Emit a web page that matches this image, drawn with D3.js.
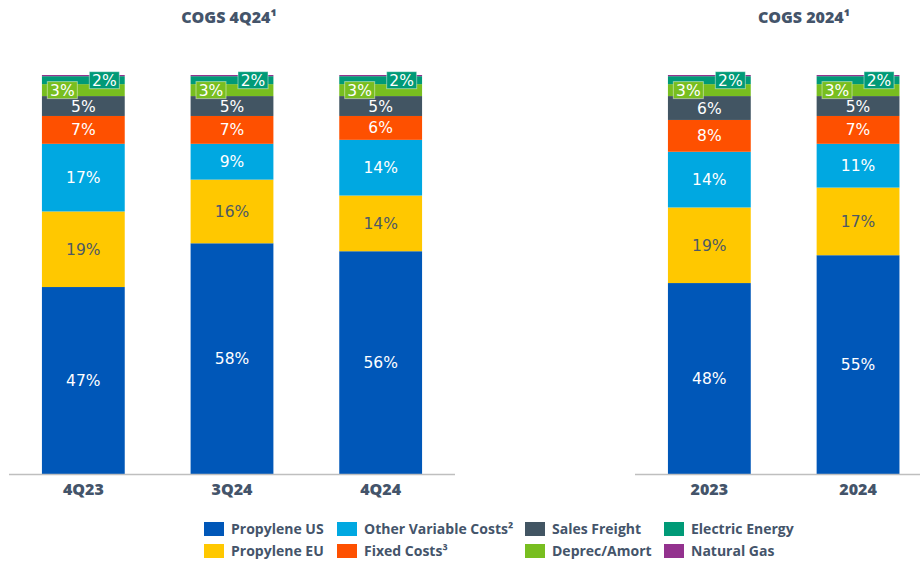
<!DOCTYPE html>
<html>
<head>
<meta charset="utf-8">
<script src="https://cdn.jsdelivr.net/npm/d3@7"></script>
<style>
  body { margin: 0; background: #fff; }
  svg { display: block; }
</style>
</head>
<body>
<div id="chart"></div>
<script>
const width = 920;
const height = 562;

// chart data
const quarters = ["4Q23", "3Q24", "4Q24"];
const years = ["2023", "2024"];
const seriesNames = ["Propylene US", "Propylene EU", "Other Variable Costs²", "Fixed Costs³",
                     "Sales Freight", "Deprec/Amort", "Electric Energy", "Natural Gas"];
const seriesColors = ["#0057B8", "#FFC800", "#00A8E1", "#FE5000",
                      "#425563", "#78BE20", "#009A77", "#93328E"];
// values for 4Q23, 3Q24, 4Q24, 2023, 2024
const propyleneUS   = [47, 58, 56, 48, 55];
const propyleneEU   = [19, 16, 14, 19, 17];
const otherVariable = [17, 9, 14, 14, 11];
const fixedCosts    = [7, 7, 6, 8, 7];
const salesFreight  = [5, 5, 5, 6, 5];
const deprecAmort   = [3, 3, 3, 3, 3];
const electricEnergy = [2, 2, 2, 2, 2];
const naturalGas    = [0.3, 0.3, 0.3, 0.3, 0.3];

const seriesValues = [propyleneUS, propyleneEU, otherVariable, fixedCosts,
                      salesFreight, deprecAmort, electricEnergy, naturalGas];
const allCats = quarters.concat(years);
const rows = allCats.map((c, i) => {
    const r = {cat: c};
    seriesNames.forEach((s, j) => r[s] = seriesValues[j][i]);
    return r;
});

const textColor = "#44546A";
const labelFont = "'DejaVu Sans', Verdana, sans-serif";
const boldFont = "'Open Sans', sans-serif";

const svg = d3.select("#chart").append("svg")
    .attr("width", width)
    .attr("height", height)
    .attr("viewBox", [0, 0, width, height]);

const baseline = 474;
const y = d3.scaleLinear().domain([0, 100.3]).range([baseline, 75]);

const stack = d3.stack().keys(seriesNames);

const panels = [
    {title: "COGS 4Q24¹", cats: quarters, range: [9, 455], titleX: 229, lineX: [9, 455]},
    {title: "COGS 2024¹", cats: years, range: [635, 932.4], titleX: 804, lineX: [635, 920]}
];

panels.forEach(p => {
    const data = rows.filter(r => p.cats.includes(r.cat));
    const x = d3.scaleBand().domain(p.cats).range(p.range)
        .paddingInner(0.443).paddingOuter(0.2215);

    const g = svg.append("g");
    const layers = stack(data);

    g.append("g")
      .selectAll("g")
      .data(layers)
      .join("g")
        .attr("fill", (d, i) => seriesColors[i])
      .selectAll("rect")
      .data(d => d)
      .join("rect")
        .attr("x", d => x(d.data.cat))
        .attr("width", x.bandwidth())
        .attr("y", d => y(d[1]))
        .attr("height", d => y(d[0]) - y(d[1]));

    // value labels
    layers.forEach((layer, i) => {
        if (seriesNames[i] == "Natural Gas") return;
        layer.forEach(d => {
            const cx = x(d.data.cat) + x.bandwidth() / 2;
            const cy = (y(d[0]) + y(d[1])) / 2;
            const txt = d.data[seriesNames[i]] + "%";
            let dx = 0;
            if (seriesNames[i] == "Deprec/Amort") dx = -21;
            if (seriesNames[i] == "Electric Energy") dx = 21;
            if (dx != 0) {
                g.append("rect")
                    .attr("x", cx + dx - 15)
                    .attr("y", cy - 8.5)
                    .attr("width", 30)
                    .attr("height", 17)
                    .attr("fill", seriesColors[i])
                    .attr("stroke", "#fff")
                    .attr("stroke-opacity", 0.45)
                    .attr("stroke-width", 1);
            }
            g.append("text")
                .attr("x", cx + dx)
                .attr("y", cy)
                .attr("dy", "0.36em")
                .attr("text-anchor", "middle")
                .attr("font-family", labelFont)
                .attr("font-size", 15.5)
                .attr("fill", seriesNames[i] == "Propylene EU" ? "#4D5966" : "#fff")
                .text(txt);
        });
    });

    // baseline
    g.append("line")
        .attr("x1", p.lineX[0]).attr("x2", p.lineX[1])
        .attr("y1", baseline + 0.5).attr("y2", baseline + 0.5)
        .attr("stroke", "#BFBFBF")
        .attr("stroke-width", 1.5);

    // category labels
    g.selectAll(".cat")
      .data(p.cats)
      .join("text")
        .attr("class", "cat")
        .attr("x", d => x(d) + x.bandwidth() / 2)
        .attr("y", 489)
        .attr("dy", "0.35em")
        .attr("text-anchor", "middle")
        .attr("font-family", boldFont)
        .attr("font-weight", 800)
        .attr("font-size", 16)
        .attr("fill", textColor)
        .text(d => d);

    svg.append("text")
        .attr("x", p.titleX)
        .attr("y", 17)
        .attr("dy", "0.35em")
        .attr("text-anchor", "middle")
        .attr("font-family", boldFont)
        .attr("font-weight", 800)
        .attr("font-size", 16)
        .attr("fill", textColor)
        .text(p.title);
});

// legend
const legendX = [204, 337, 525, 664];
const legendY = [529, 551];
const legend = svg.append("g")
  .selectAll("g")
  .data(seriesNames)
  .join("g")
    .attr("transform", (d, i) => `translate(${legendX[Math.floor(i / 2)]},${legendY[i % 2]})`);

legend.append("rect")
    .attr("x", 0)
    .attr("y", -7)
    .attr("width", 20)
    .attr("height", 14)
    .attr("fill", (d, i) => seriesColors[i]);

legend.append("text")
    .attr("x", 27)
    .attr("dy", "0.35em")
    .attr("font-family", boldFont)
    .attr("font-weight", 700)
    .attr("font-size", 14)
    .attr("fill", textColor)
    .text(d => d);
</script>
</body>
</html>
